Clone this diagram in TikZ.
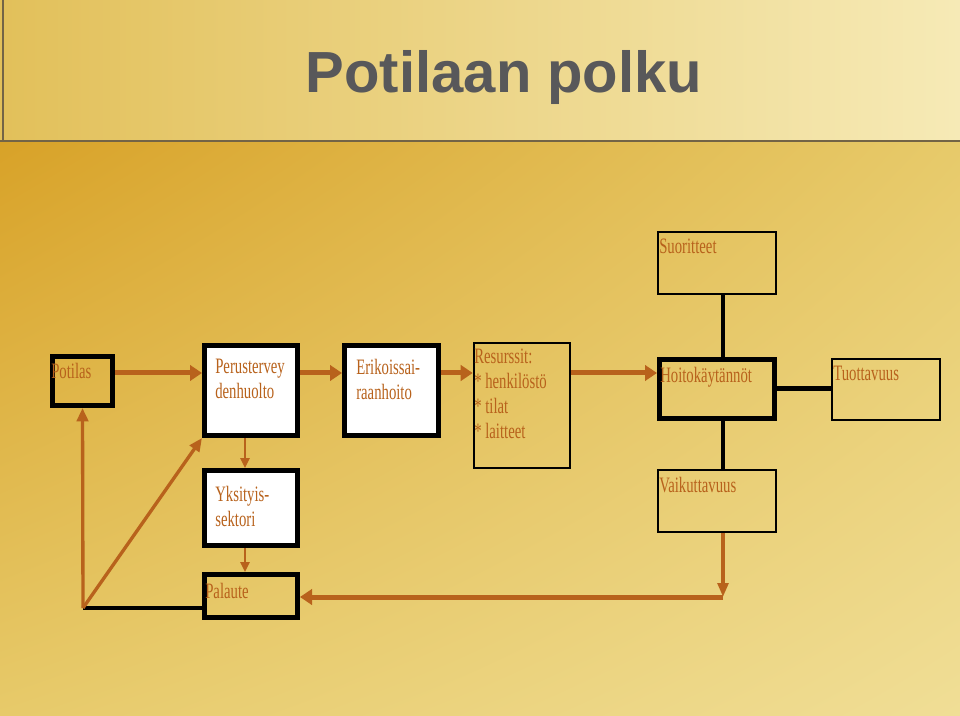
\documentclass[tikz,border=0pt]{standalone}
\usepackage{fontspec}
\usetikzlibrary{arrows.meta,shadings}
\newfontfamily\boxfont[FakeStretch=0.67]{Liberation Serif}
\newfontfamily\titlefont{Liberation Sans}
\definecolor{ink}{RGB}{184,98,28}
\definecolor{titlegray}{RGB}{88,88,90}
\definecolor{bandL}{RGB}{226,192,90}
\definecolor{bandR}{RGB}{246,234,182}
\definecolor{goldD}{RGB}{216,162,40}
\definecolor{goldM}{RGB}{231,202,106}
\definecolor{goldL}{RGB}{240,222,150}
\definecolor{rule}{RGB}{115,100,70}

\begin{document}
\begin{tikzpicture}[x=.75pt,y=-.75pt,
 frm/.style={draw,line width=1.9pt,inner sep=0pt},
 thk/.style={frm,line width=3.75pt},
 wht/.style={thk,fill=white},
 txt/.style={font=\boxfont\fontsize{16.5}{18.75}\selectfont,text=ink,align=left,inner sep=0pt,anchor=north west},
 flow/.style={draw=ink,line width=3.75pt,-{Triangle[length=9pt,width=11.5pt]}},
 down/.style={draw=ink,line width=3pt,-{Triangle[length=10.5pt,width=8pt]}},
 back/.style={draw=ink,line width=2.5pt,-{Triangle[length=10pt,width=8.5pt]}},
 thin/.style={draw=ink,line width=1.5pt,-{Triangle[length=7.5pt,width=7pt]}},
 link/.style={line width=2.5pt},
 bar/.style={line width=3.75pt}]
\useasboundingbox (0,0) rectangle (960,716);
\shade[upper left=bandL,upper right=bandR,lower left=bandL,lower right=bandR] (0,0) rectangle (960,141);
\shade[upper left=goldD,upper right=goldM,lower left=goldM,lower right=goldL] (0,141) rectangle (960,716);
\draw[line width=1.5pt,rule] (0,141) -- (960,141);
\draw[line width=1pt,rule] (3,0) -- (3,141);
\node[font=\titlefont\bfseries\fontsize{43.5}{50}\selectfont,text=titlegray,anchor=base] (title) at (504,93) {Potilaan polku};
\node[thk,minimum width=45pt,minimum height=36.75pt] (potilas) at (82.5,381) {};
\node[wht,minimum width=69.75pt,minimum height=67.5pt] (perus) at (251,390.5) {};
\node[wht,minimum width=70.5pt,minimum height=67.5pt] (erik) at (391.5,390.5) {};
\node[frm,minimum width=72pt,minimum height=93.75pt] (resurssit) at (522,405.5) {};
\node[frm,minimum width=88.5pt,minimum height=46.5pt] (suor) at (717,263) {};
\node[thk,minimum width=86.25pt,minimum height=44.25pt] (hoito) at (717,389) {};
\node[frm,minimum width=81pt,minimum height=45.75pt] (tuotto) at (886,389.5) {};
\node[frm,minimum width=88.5pt,minimum height=46.5pt] (vaik) at (717,501) {};
\node[wht,minimum width=69.75pt,minimum height=56.25pt] (yksit) at (251,508) {};
\node[thk,minimum width=69.75pt,minimum height=32.25pt] (palaute) at (251,596) {};
\node[txt] (potilas-t) at (51,363) {Potilas};
\node[txt] (perus-t) at (215,359) {Perustervey\\denhuolto};
\node[txt] (erik-t) at (356,359) {Erikoissai-\\raanhoito};
\node[txt] (resurssit-t) at (474,349) {Resurssit:\\* henkilöstö\\* tilat\\* laitteet};
\node[txt] (suor-t) at (659,239) {Suoritteet};
\node[txt] (hoito-t) at (660,367) {Hoitokäytännöt};
\node[txt] (tuotto-t) at (833,366) {Tuottavuus};
\node[txt] (vaik-t) at (659,477) {Vaikuttavuus};
\node[txt] (yksit-t) at (215,486) {Yksityis-\\sektori};
\node[txt] (palaute-t) at (205,583) {Palaute};
\coordinate (row) at (0,373);
\coordinate (fb) at (723,597);
\coordinate (corner) at (83,608);
\draw[flow] (potilas.east |- row) -- (perus.west |- row);
\draw[flow] (perus.east |- row) -- (erik.west |- row);
\draw[flow] (erik.east |- row) -- (resurssit.west |- row);
\draw[flow] (resurssit.east |- row) -- (hoito.west |- row);
\draw[link] ([xshift=4.5pt]suor.south) -- ([xshift=4.5pt]hoito.north);
\draw[bar] (hoito.east) -- (hoito.east -| tuotto.west);
\draw[link] ([xshift=4.5pt]hoito.south) -- ([xshift=4.5pt]vaik.north);
\draw[down] ([xshift=4.5pt]vaik.south) -- (fb);
\draw[flow] (fb) -- (palaute.east |- fb);
\draw[thin] ([xshift=-4.5pt]perus.south) -- ([xshift=-4.5pt]yksit.north);
\draw[thin] ([xshift=-4.5pt]yksit.south) -- ([xshift=-4.5pt]palaute.north);
\draw[bar,line width=3pt] (palaute.west |- corner) -- (corner);
\draw[back] (corner) -- (potilas.south);
\draw[back] (corner) -- (perus.south west);
\end{tikzpicture}
\end{document}
